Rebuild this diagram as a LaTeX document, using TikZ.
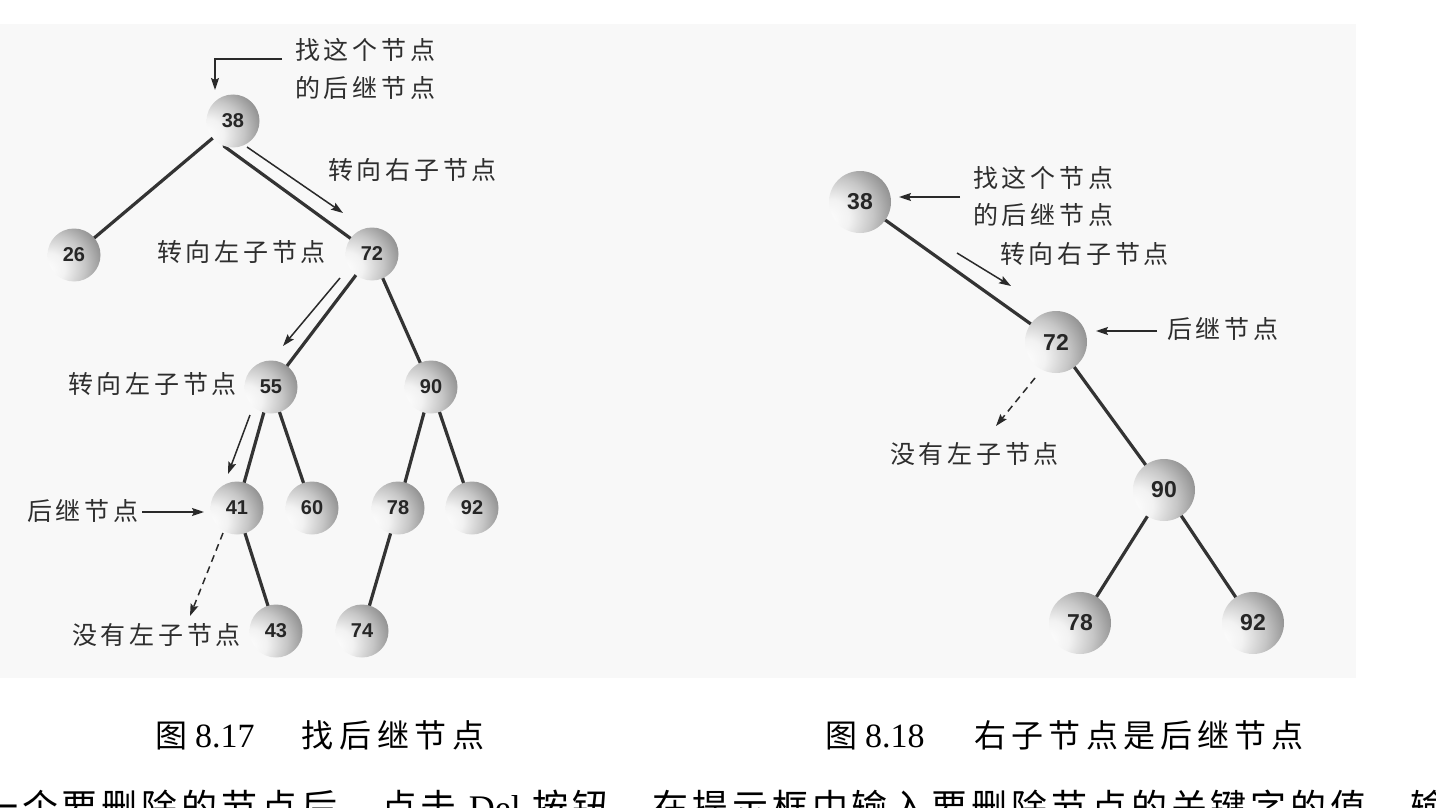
\documentclass[tikz,border=0pt]{standalone}
\usepackage{fontspec}
\setmainfont{Liberation Serif}
\newfontfamily\cjklab{Noto Sans CJK SC}[LetterSpace=15]
\newfontfamily\cjkcapA{Noto Sans CJK SC}[LetterSpace=18]
\newfontfamily\cjkcapB{Noto Sans CJK SC}[LetterSpace=16]
\newfontfamily\cjkbody{Noto Sans CJK SC}[LetterSpace=10.8]
\newfontfamily\cjkplain{Noto Sans CJK SC}
\newfontfamily\numf{Liberation Sans}
\usetikzlibrary{arrows.meta}
\definecolor{panel}{HTML}{F8F8F8}
\definecolor{edgec}{HTML}{333333}
\definecolor{arrc}{HTML}{2A2A2A}
\definecolor{labc}{HTML}{2E2E2E}
\definecolor{sA}{HTML}{F2F2F2}
\definecolor{sB}{HTML}{C6C6C6}
\definecolor{sC}{HTML}{8A8A8A}
\definecolor{sD}{HTML}{555555}
\definecolor{sE}{HTML}{404040}
\definecolor{sF}{HTML}{3A3A3A}
\pgfdeclareradialshading{sphere}{\pgfpoint{-28bp}{-15bp}}{color(0bp)=(white); color(15bp)=(sA); color(30bp)=(sB); color(45bp)=(sC); color(60bp)=(sD); color(75bp)=(sE); color(100bp)=(sF)}
\pgfdeclarelayer{bg}
\pgfdeclarelayer{edges}
\pgfsetlayers{bg,edges,main}
\tikzset{
  sph/.style={circle, inner sep=0pt, minimum size=53pt, shading=sphere, text=black!85,
    font=\numf\bfseries\fontsize{20}{20}\selectfont},
  sphB/.style={sph, minimum size=62pt, font=\numf\bfseries\fontsize{23}{23}\selectfont},
  edge/.style={line width=3.2pt, draw=edgec, line cap=round},
  arr/.style={line width=1.5pt, draw=arrc, -{Stealth[length=12pt,width=8pt,inset=2pt]}},
  darr/.style={arr, dash pattern=on 7pt off 5pt},
  lab/.style={font=\cjklab\fontsize{25}{25}\selectfont, text=labc, inner sep=0pt, anchor=base west},
  captext/.style={inner sep=0pt, anchor=base west, text=black},
}
\begin{document}
\begin{tikzpicture}[x=1pt,y=-1pt]
\useasboundingbox (0,0) rectangle (1436,808);
\begin{pgfonlayer}{bg}
  \fill[white] (0,0) rectangle (1436,808);
  \fill[panel] (0,24) rectangle (1356,678);
\end{pgfonlayer}

% ---------- left tree (Fig. 8.17)
\node[sph] (a38) at (233,121) {38};
\node[sph] (a26) at (74,255) {26};
\node[sph] (a72) at (372,254) {72};
\node[sph] (a55) at (271,387) {55};
\node[sph] (a90) at (431,387) {90};
\node[sph] (a41) at (237,508) {41};
\node[sph] (a60) at (312,508) {60};
\node[sph] (a78) at (398,508) {78};
\node[sph] (a92) at (472,508) {92};
\node[sph] (a43) at (276,631) {43};
\node[sph] (a74) at (362,631) {74};

\begin{pgfonlayer}{edges}
  \draw[edge] (a38.center) -- (a26.center);
  \draw[edge] (a38.250) -- (a72.center);
  \draw[edge] (a72.center) -- (a55.center);
  \draw[edge] (a72.center) -- (a90.center);
  \draw[edge] (a55.center) -- (a41.center);
  \draw[edge] (a55.center) -- (a60.center);
  \draw[edge] (a90.center) -- (a78.center);
  \draw[edge] (a90.center) -- (a92.center);
  \draw[edge] (a41.center) -- (a43.center);
  \draw[edge] (a78.center) -- (a74.center);
\end{pgfonlayer}

\node[lab] (l1a) at (295,59.5) {找这个节点};
\node[lab] (l1b) at (295,97.5) {的后继节点};
\node[lab] (l2) at (328,179.5) {转向右子节点};
\node[lab] (l3) at (157,261.5) {转向左子节点};
\node[lab] (l4) at (68,393.5) {转向左子节点};
\node[lab] (l5) at (27,520.5) {后继节点};
\node[lab] (l6) at (72,644.5) {没有左子节点};

\coordinate (p1) at (282,59);  \coordinate (q1) at (215,90);
\coordinate (p2) at (247,147); \coordinate (q2) at (343,213);
\coordinate (p3) at (340,278); \coordinate (q3) at (283,346);
\coordinate (p4) at (250,415); \coordinate (q4) at (228,474);
\coordinate (p5) at (142,512); \coordinate (q5) at (204,512);
\coordinate (p6) at (223,533); \coordinate (q6) at (190,616);
\draw[arr] (p1) -| (q1);
\draw[arr] (p2) -- (q2);
\draw[arr] (p3) -- (q3);
\draw[arr] (p4) -- (q4);
\draw[arr] (p5) -- (q5);
\draw[darr] (p6) -- (q6);

% ---------- right tree (Fig. 8.18)
\node[sphB] (b38) at (860,202) {38};
\node[sphB] (b72) at (1056,342) {72};
\node[sphB] (b90) at (1164,490) {90};
\node[sphB] (b78) at (1080,623) {78};
\node[sphB] (b92) at (1253,623) {92};

\begin{pgfonlayer}{edges}
  \draw[edge] (b38.center) -- (b72.center);
  \draw[edge] (b72.center) -- (b90.center);
  \draw[edge] (b90.center) -- (b78.center);
  \draw[edge] (b90.center) -- (b92.center);
\end{pgfonlayer}

\node[lab] (r1a) at (973,187.5) {找这个节点};
\node[lab] (r1b) at (973,224.5) {的后继节点};
\node[lab] (r2) at (1000,263.5) {转向右子节点};
\node[lab] (r3) at (1167,338.5) {后继节点};
\node[lab] (r4) at (890,463.5) {没有左子节点};

\coordinate (u1) at (960,197);  \coordinate (v1) at (899,197);
\coordinate (u2) at (957,253);  \coordinate (v2) at (1011,286);
\coordinate (u3) at (1157,331); \coordinate (v3) at (1096,331);
\coordinate (u4) at (1035,378); \coordinate (v4) at (996,426);
\draw[arr] (u1) -- (v1);
\draw[arr] (u2) -- (v2);
\draw[arr] (u3) -- (v3);
\draw[darr] (u4) -- (v4);

% ---------- captions
\node[captext] (c1) at (155,747) {\fontsize{32}{32}\selectfont{\cjkplain 图}\hspace{8pt}{\fontsize{34}{34}\selectfont 8.17}\hspace{47pt}{\cjkcapA 找后继节点}};
\node[captext] (c2) at (825,747) {\fontsize{32}{32}\selectfont{\cjkplain 图}\hspace{8pt}{\fontsize{34}{34}\selectfont 8.18}\hspace{50pt}{\cjkcapB 右子节点是后继节点}};
\node[captext] (body) at (-18,820) {\fontsize{36}{36}\selectfont\cjkbody 一个要删除的节点后，点击 {\rmfamily Del} 按钮，在提示框中输入要删除节点的关键字的值，输};
\end{tikzpicture}
\end{document}
